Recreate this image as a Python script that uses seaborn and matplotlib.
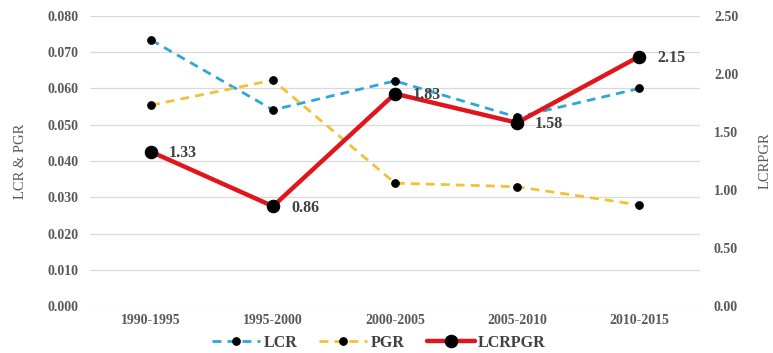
import matplotlib
matplotlib.use("Agg")
import matplotlib.pyplot as plt
import seaborn as sns
import pandas as pd

# Five-year periods and the three indicators
periods = ["1990-1995", "1995-2000", "2000-2005", "2005-2010", "2010-2015"]
lcr = [0.0734, 0.0541, 0.0621, 0.0521, 0.0600]
pgr = [0.0554, 0.0623, 0.0339, 0.0329, 0.0279]
lcrpgr = [1.33, 0.86, 1.83, 1.58, 2.15]

left_ticks = [0.000, 0.010, 0.020, 0.030, 0.040, 0.050, 0.060, 0.070, 0.080]
right_ticks = [0.00, 0.50, 1.00, 1.50, 2.00, 2.50]

df = pd.DataFrame({"period": periods, "LCR": lcr, "PGR": pgr, "LCRPGR": lcrpgr})

sns.set_theme(style="white")
plt.rcParams["font.family"] = ["Liberation Serif", "DejaVu Serif"]

TICK_COLOR = "#595959"
LABEL_COLOR = "#404040"
BLUE = "#2DA6DA"
YELLOW = "#F1C232"
RED = "#E0161C"

fig = plt.figure(figsize=(7.73, 3.53), dpi=100)
ax = fig.add_axes([0.1164, 0.1331, 0.7892, 0.8216])
ax2 = ax.twinx()

sns.lineplot(data=df, x="period", y="LCR", ax=ax, color=BLUE, lw=2.0,
             linestyle=(0, (3.2, 2.2)), marker="o", markersize=5.5,
             markerfacecolor="black", markeredgecolor="black", label="LCR",
             sort=False)
sns.lineplot(data=df, x="period", y="PGR", ax=ax, color=YELLOW, lw=2.0,
             linestyle=(0, (3.2, 2.2)), marker="o", markersize=5.5,
             markerfacecolor="black", markeredgecolor="black", label="PGR",
             sort=False)
sns.lineplot(data=df, x="period", y="LCRPGR", ax=ax2, color=RED, lw=3.2,
             marker="o", markersize=9, markerfacecolor="black",
             markeredgecolor="black", label="LCRPGR", sort=False)

for i, v in enumerate(lcrpgr):
    ax2.annotate(f"{v:.2f}", xy=(i, v), xytext=(13, -1), textcoords="offset points",
                 ha="left", va="center", fontsize=11.5, fontweight="bold",
                 color=LABEL_COLOR)

ax.set_xlim(-0.5, 4.5)
ax.set_ylim(0, 0.08)
ax.set_yticks(left_ticks)
ax.set_yticklabels([f"{t:.3f}" for t in left_ticks])
ax2.set_ylim(0, 2.5)
ax2.set_yticks(right_ticks)
ax2.set_yticklabels([f"{t:.2f}" for t in right_ticks])

ax.grid(True, axis="y", color="#D9D9D9", lw=0.9)
ax.grid(False, axis="x")
ax2.grid(False)
for a in (ax, ax2):
    for s in a.spines.values():
        s.set_visible(False)
    a.tick_params(length=0, labelsize=10, labelcolor=TICK_COLOR)
    for t in a.get_xticklabels() + a.get_yticklabels():
        t.set_fontweight("bold")
ax.tick_params(axis="y", pad=8)
ax.tick_params(axis="x", pad=6)
ax2.tick_params(axis="y", pad=10)

ax.set_xlabel("")
ax.set_ylabel("LCR & PGR", fontsize=10.5, color=TICK_COLOR, labelpad=15)
ax2.set_ylabel("LCRPGR", fontsize=10.5, color=TICK_COLOR, labelpad=15,
               rotation=90)

h1, l1 = ax.get_legend_handles_labels()
h2, l2 = ax2.get_legend_handles_labels()
for a in (ax, ax2):
    if a.get_legend() is not None:
        a.get_legend().remove()
leg = fig.legend(h1 + h2, l1 + l2, loc="lower center", bbox_to_anchor=(0.49, 0.0),
                 ncol=3, frameon=False, handlelength=3.0, columnspacing=1.4,
                 handletextpad=0.2, borderpad=0.1, borderaxespad=0.05,
                 prop={"family": "Liberation Serif", "weight": "bold", "size": 11.5})
for t in leg.get_texts():
    t.set_color(LABEL_COLOR)

fig.savefig("out.png", dpi=100)
